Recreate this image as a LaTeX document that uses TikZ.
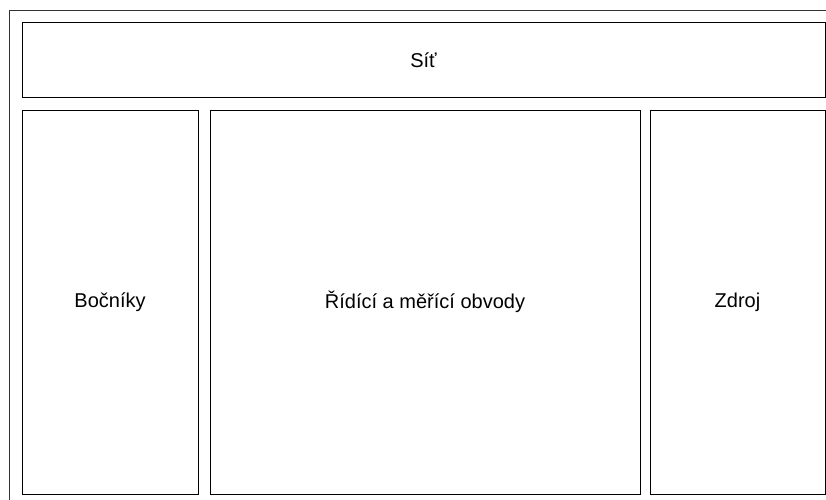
\documentclass[tikz,border=0pt]{standalone}
\usepackage{fontspec}
\setmainfont{Liberation Sans}
\begin{document}
\begin{tikzpicture}[x=1pt,y=-1pt,
  panel/.style={draw=black,line width=0.8pt,inner sep=0pt,font=\fontsize{20}{22}\selectfont}]
\useasboundingbox (0,0) rectangle (826,499);
\clip (0,0) rectangle (826,499);
\draw[line width=0.8pt,draw=black!80] (9,10) rectangle (840,520);
\node[panel,minimum width=803pt,minimum height=75pt] (sit) at (423.5,60) {Síť};
\node[panel,minimum width=176pt,minimum height=384pt] (bocniky) at (110,302) {Bočníky};
\node[panel,minimum width=430pt,minimum height=384pt] (ridici) at (425,302) {Řídící a měřící obvody};
\node[panel,minimum width=175pt,minimum height=384pt] (zdroj) at (737.5,302) {Zdroj};
\end{tikzpicture}
\end{document}
